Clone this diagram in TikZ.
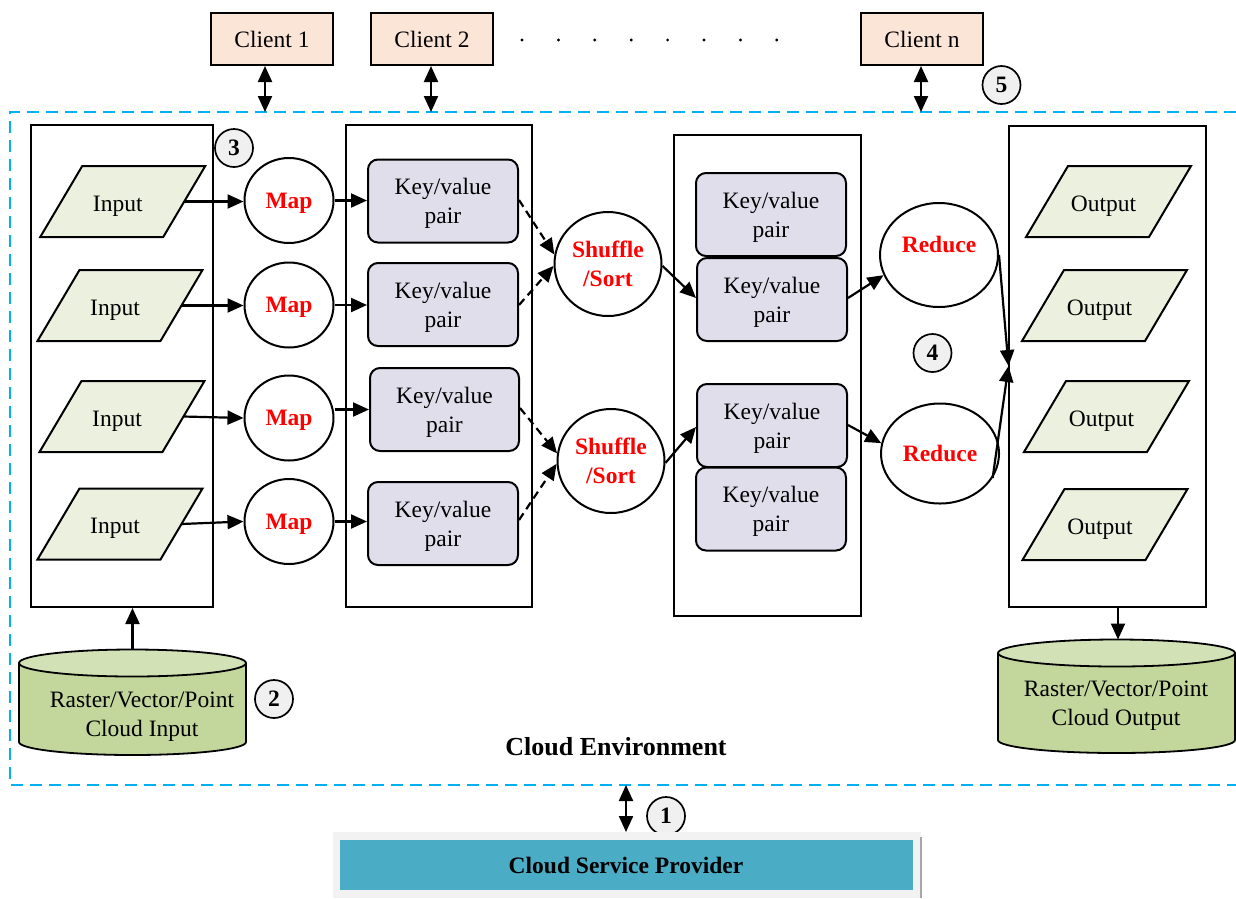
\documentclass[tikz,border=0pt]{standalone}
\usepackage{fontspec}
\setmainfont{Liberation Serif}
\usetikzlibrary{arrows.meta,shapes.geometric}
\definecolor{clientfill}{HTML}{FBE5D6}
\definecolor{parafill}{HTML}{EBF1DE}
\definecolor{kvfill}{HTML}{E1DEEB}
\definecolor{cylbody}{HTML}{C3D69B}
\definecolor{cyltop}{HTML}{D3E2B6}
\definecolor{numfill}{HTML}{F0F0F0}
\definecolor{envblue}{HTML}{00B0F0}
\definecolor{cspteal}{HTML}{4BACC6}
\definecolor{cspgray}{HTML}{F2F2F2}
\newcommand\dtxt{\fontsize{23.5}{29}\selectfont}
\newcommand\paral[4]{%
  \draw[parabox] ({#2-40.5},{#3-35.5}) -- ({#2+82.5},{#3-35.5}) -- ({#2+40.5},{#3+35.5}) -- ({#2-82.5},{#3+35.5}) -- cycle;
  \node[plain] (#1) at ({#2-5},{#3+2}) {#4};
  \coordinate (#1e) at ({#2+61.5},{#3});
}
\begin{document}
\begin{tikzpicture}[x=1pt,y=-1pt,
  plain/.style={font=\dtxt, inner sep=0pt, text depth=0pt},
  parabox/.style={draw, fill=parafill, line width=2pt},
  client/.style={draw, fill=clientfill, line width=2pt, minimum width=122pt, minimum height=52pt, inner sep=0pt, font=\dtxt},
  colbox/.style={draw, line width=2pt, inner sep=0pt},
  kv/.style={draw, fill=kvfill, rounded corners=10pt, minimum width=150pt, minimum height=83pt, align=center, font=\dtxt, line width=2pt, inner sep=0pt, text depth=0pt},
  oval/.style={draw, ellipse, line width=2pt, fill=white, inner sep=0pt, align=center, font=\dtxt\bfseries, text=red, text depth=0pt},
  num/.style={draw, circle, fill=numfill, minimum size=38pt, inner sep=0pt, font=\dtxt\bfseries, line width=1.7pt},
  arr/.style={-{Triangle[length=16pt,width=14pt]}, line width=2.2pt},
  darr/.style={{Triangle[length=16pt,width=14pt]}-{Triangle[length=16pt,width=14pt]}, line width=2.2pt},
  dasharr/.style={arr, dash pattern=on 8pt off 5pt},
  envline/.style={envblue, line width=2.5pt, dash pattern=on 12pt off 7pt}
]
\useasboundingbox (0,0) rectangle (1236,898);

% environment
\draw[envline] (1236,112) -- (10,112) -- (10,785) -- (1236,785);

% clients
\node[client] (cl1) at (272,39) {Client 1};
\node[client] (cl2) at (432,39) {Client 2};
\node[client] (cln) at (922,39) {Client n};
\foreach \i in {0,...,7} \fill ({522+36.4*\i},40) circle (1.6pt);
\coordinate (e1) at (265,112);
\coordinate (e2) at (431,112);
\coordinate (en) at (921,112);
\draw[darr] (cl1.south -| e1) -- (e1);
\draw[darr] (cl2.south -| e2) -- (e2);
\draw[darr] (cln.south -| en) -- (en);

% columns
\node[colbox, minimum width=182pt, minimum height=482pt] (c1) at (122,366) {};
\node[colbox, minimum width=186pt, minimum height=482pt] (c2) at (439,366) {};
\node[colbox, minimum width=187pt, minimum height=481pt] (c3) at (767.5,375.5) {};
\node[colbox, minimum width=197pt, minimum height=481pt] (c4) at (1107.5,366.5) {};

% inputs
\paral{in1}{122.75}{201.5}{Input}
\paral{in2}{120}{305.5}{Input}
\paral{in3}{122}{416.5}{Input}
\paral{in4}{120}{524}{Input}

% outputs
\paral{out1}{1108.5}{201.5}{Output}
\paral{out2}{1104.5}{305.5}{Output}
\paral{out3}{1106.5}{416.5}{Output}
\paral{out4}{1105}{524.5}{Output}

% maps
\node[oval, minimum width=89pt, minimum height=85pt] (m1) at (289,200.5) {Map};
\node[oval, minimum width=89pt, minimum height=85pt] (m2) at (289,305) {Map};
\node[oval, minimum width=89pt, minimum height=85pt] (m3) at (289,418) {Map};
\node[oval, minimum width=89pt, minimum height=85pt] (m4) at (289,521.5) {Map};

\draw[arr] (in1e) -- (m1.west |- in1e);
\draw[arr] (in2e) -- (m2.west |- in2e);
\draw[arr] (in3e) -- (m3.west);
\draw[arr] (in4e) -- (m4.west);

% key/value column 2
\node[kv] (k1) at (443,201) {Key/value\\pair};
\node[kv] (k2) at (443,304.5) {Key/value\\pair};
\node[kv, minimum width=149pt] (k3) at (444.5,409.5) {Key/value\\pair};
\node[kv] (k4) at (443,523.5) {Key/value\\pair};

\draw[arr] (m1.east) -- (m1.east -| k1.west);
\draw[arr] (m2.east) -- (m2.east -| k2.west);
\draw[arr] (m3.east |- k3.west) -- (k3.west);
\draw[arr] (m4.east) -- (m4.east -| k4.west);

% shuffle
\node[oval, minimum width=107pt, minimum height=104pt] (s1) at (608,264) {Shuffle\\/Sort};
\node[oval, minimum width=107pt, minimum height=104pt] (s2) at (611,461) {Shuffle\\/Sort};

\draw[dasharr] (k1.east |- 0,200) -- (s1.170);
\draw[dasharr] (k2.east |- 0,305) -- (s1.182);
\draw[dasharr] (k3.east |- 0,408) -- (s2.172);
\draw[dasharr] (k4.east |- 0,520) -- (s2.183);

% key/value column 3
\node[kv] (kA) at (771,214.5) {Key/value\\pair};
\node[kv] (kB) at (772,299.5) {Key/value\\pair};
\node[kv] (kC) at (772,425.5) {Key/value\\pair};
\node[kv] (kD) at (771,509) {Key/value\\pair};

\draw[arr] (s1.-2) -- (kB.west |- 0,298);
\draw[arr] (s2.-2) -- (kC.west |- 0,427);

% reduce
\node[draw, ellipse, line width=2pt, fill=white, minimum width=118pt, minimum height=104pt] (r1) at (939,255) {};
\node[plain, font=\dtxt\bfseries, text=red] (r1t) at (939,244) {Reduce};
\node[oval, minimum width=118pt, minimum height=100pt] (r2) at (940,453.5) {Reduce};

\draw[arr] (kB.east |- 0,298) -- (r1.200);
\draw[arr] (kC.east |- 0,425) -- (r2.170);

\coordinate (join) at (1008.5,366);
\draw[arr] (r1.east) -- (join);
\draw[arr] (r2.-25) -- (join);

% numbers
\node[num] (n3) at (234,148) {3};
\node[num] (n5) at (1001.5,85) {5};
\node[num] (n4) at (932.5,353) {4};
\node[num] (n2) at (274,699) {2};
\node[num] (n1) at (666,816) {1};

% cylinders
\fill[cylbody, draw=black, line width=1.8pt] (132.5,742) ellipse [x radius=113.5pt, y radius=13pt];
\fill[cylbody] (19,663) rectangle (246,742);
\draw[line width=1.8pt] (19,663) -- (19,742) (246,663) -- (246,742);
\fill[cyltop, draw=black, line width=1.8pt] (132.5,663) ellipse [x radius=113.5pt, y radius=13.5pt];
\node[plain, align=center] (cylin) at (142,714) {Raster/Vector/Point\\Cloud Input};
\coordinate (cylintop) at (132.5,649.5);
\draw[arr] (cylintop) -- (cylintop |- c1.south);

\fill[cylbody, draw=black, line width=1.8pt] (1116.5,740) ellipse [x radius=118.5pt, y radius=13pt];
\fill[cylbody] (998,653) rectangle (1235,740);
\draw[line width=1.8pt] (998,653) -- (998,740) (1235,653) -- (1235,740);
\fill[cyltop, draw=black, line width=1.8pt] (1116.5,653) ellipse [x radius=118.5pt, y radius=13.5pt];
\node[plain, align=center] (cylout) at (1116,703.5) {Raster/Vector/Point\\Cloud Output};
\coordinate (cylouttop) at (1118,639.5);
\draw[arr] (cylouttop |- c4.south) -- (cylouttop);

% label
\node[plain, font=\fontsize{26}{30}\selectfont\bfseries] (envlabel) at (616,746) {Cloud Environment};

% cloud service provider
\fill[cspgray] (333,832) rectangle (921,898);
\draw[gray!70, line width=1.5pt] (921,837) -- (921,898);
\node[fill=cspteal, minimum width=573pt, minimum height=50pt, inner sep=0pt, font=\dtxt\bfseries] (csp) at (626,865) {Cloud Service Provider};
\coordinate (envb) at (626,785);
\coordinate (cspt) at (626,832);
\draw[darr] (envb) -- (cspt);
\end{tikzpicture}
\end{document}
